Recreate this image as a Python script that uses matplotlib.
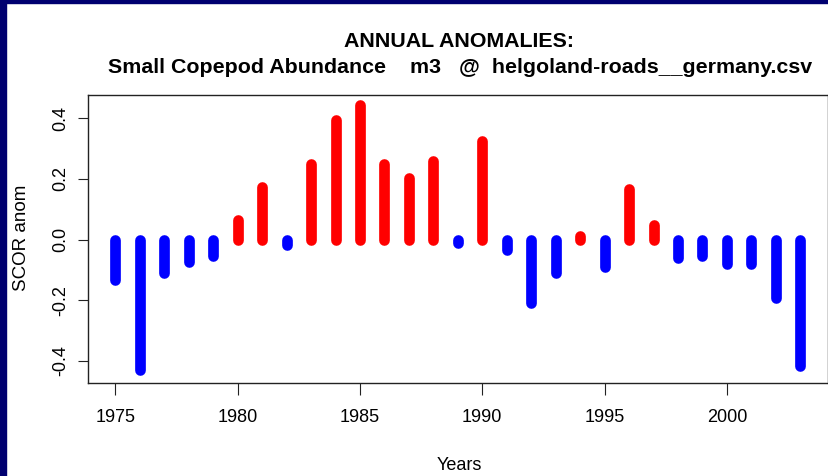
import matplotlib
matplotlib.use("Agg")
import matplotlib.pyplot as plt
from matplotlib.patches import Rectangle

years = list(range(1975, 2004))
anomalies = [-0.132, -0.431, -0.110, -0.075, -0.055, 0.063, 0.172, -0.017,
             0.250, 0.396, 0.445, 0.250, 0.202, 0.260, -0.011, 0.326,
             -0.035, -0.209, -0.110, 0.013, -0.092, 0.167, 0.049, -0.061,
             -0.055, -0.081, -0.081, -0.193, -0.417]
yticks = [-0.4, -0.2, 0.0, 0.2, 0.4]
xticks = [1975, 1980, 1985, 1990, 1995, 2000]
title_line1 = "ANNUAL ANOMALIES:"
title_line2 = "Small Copepod Abundance    m3   @  helgoland-roads__germany.csv"

plt.rcParams['font.family'] = ['Liberation Sans', 'DejaVu Sans']

W, H = 829, 476
fig = plt.figure(figsize=(W / 100, H / 100), dpi=100)
fig.patch.set_facecolor('white')

ax = fig.add_axes([88 / W, 1 - 382.7 / H, (827.7 - 88) / W, (382.7 - 95) / H])
for x, v in zip(years, anomalies):
    c = '#FF0000' if v > 0 else '#0000FF'
    ax.plot([x, x], [0, v], color=c, lw=7.7, solid_capstyle='round')

ax.set_xlim(1973.88, 2004.12)
ax.set_ylim(-0.4725, 0.477)
ax.set_xticks(xticks)
ax.set_xticklabels([str(t) for t in xticks])
ax.set_yticks(yticks)
ax.set_yticklabels([f"{t:.1f}" for t in yticks])
for s in ax.spines.values():
    s.set_color('#222222')
    s.set_linewidth(1.0)
ax.tick_params(axis='x', length=8.5, width=0.8, pad=10.5, labelsize=13, color='#222222')
ax.tick_params(axis='y', length=7.2, width=0.8, pad=6, labelsize=13, color='#222222',
               labelrotation=90)
for lab in ax.get_yticklabels():
    lab.set_va('center')

fig.text(459.5 / W, 1 - 46.7 / H, title_line1, ha='center', va='baseline',
         fontsize=15.4, fontweight='bold')
fig.text(460 / W, 1 - 73.3 / H, title_line2, ha='center', va='baseline',
         fontsize=15.4, fontweight='bold')
fig.text(459 / W, 6 / H, "Years", ha='center', va='baseline', fontsize=13)
fig.text(21.7 / W, 1 - 238 / H, "SCOR anom", ha='center', va='center',
         rotation=90, fontsize=13.5)

# navy frame on left and top
fig.patches.append(Rectangle((0, 0), 6 / W, 1, transform=fig.transFigure,
                             color='#000070', zorder=10))
fig.patches.append(Rectangle((0, 1 - 3.3 / H), 1, 3.3 / H, transform=fig.transFigure,
                             color='#000070', zorder=10))

fig.savefig("out.png", dpi=100, facecolor='white')
